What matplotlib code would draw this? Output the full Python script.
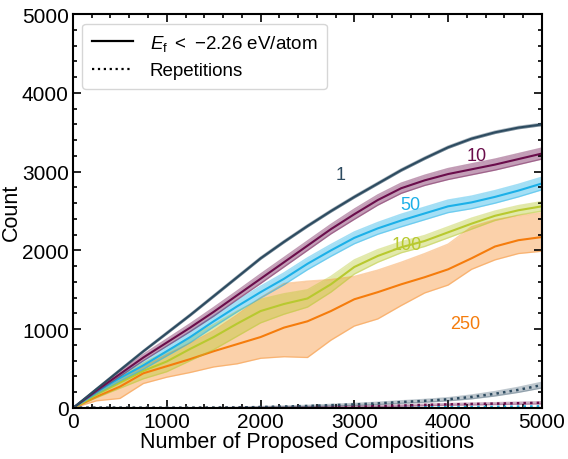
import matplotlib as mpl
import matplotlib.pyplot as plt
from matplotlib.lines import Line2D
from matplotlib.ticker import MultipleLocator

mpl.use("Agg")

plt.rcParams["font.family"] = ["Liberation Sans", "DejaVu Sans"]
plt.rcParams["mathtext.fontset"] = "custom"
plt.rcParams["mathtext.rm"] = "Liberation Sans"
plt.rcParams["mathtext.it"] = "Liberation Sans:italic"
plt.rcParams["font.size"] = 15

# number of proposed compositions
n_proposed = [0, 250, 500, 750, 1000, 1250, 1500, 1750, 2000, 2250, 2500,
              2750, 3000, 3250, 3500, 3750, 4000, 4250, 4500, 4750, 5000]

# counts with E_f < -2.26 eV/atom, per batch size
count_1 = [0, 240, 480, 720, 950, 1180, 1420, 1660, 1900, 2110, 2310,
           2500, 2680, 2850, 3020, 3170, 3310, 3420, 3500, 3560, 3600]
spread_1 = [0, 8, 12, 12, 14, 14, 15, 15, 15, 15, 15,
            15, 15, 15, 15, 15, 15, 15, 15, 15, 15]

count_10 = [0, 220, 430, 640, 830, 1020, 1220, 1430, 1640, 1850, 2060,
            2270, 2460, 2640, 2790, 2890, 2970, 3030, 3090, 3160, 3230]
spread_10 = [0, 20, 30, 40, 45, 50, 55, 55, 60, 60, 60,
             60, 65, 65, 65, 65, 70, 70, 70, 70, 70]

count_50 = [0, 200, 380, 540, 720, 900, 1100, 1290, 1470, 1640, 1830,
            2000, 2160, 2280, 2380, 2470, 2560, 2610, 2680, 2760, 2850]
spread_50 = [0, 25, 40, 50, 60, 70, 70, 70, 75, 75, 75,
             75, 75, 75, 80, 80, 80, 80, 80, 80, 80]

count_100 = [0, 170, 320, 470, 590, 750, 900, 1070, 1230, 1320, 1390,
             1570, 1790, 1930, 2040, 2120, 2230, 2340, 2440, 2510, 2560]
spread_100 = [0, 40, 70, 100, 130, 150, 160, 160, 150, 130, 110,
              100, 90, 80, 70, 70, 70, 70, 60, 60, 60]

count_250 = [0, 140, 270, 440, 530, 620, 720, 810, 900, 1020, 1100,
             1230, 1380, 1470, 1570, 1660, 1760, 1900, 2050, 2130, 2170]
low_250 = [0, 90, 120, 310, 390, 450, 520, 560, 630, 650, 640,
           860, 1040, 1130, 1300, 1460, 1560, 1760, 1880, 1960, 1990]
high_250 = [0, 190, 380, 520, 680, 820, 980, 1180, 1400, 1580, 1610,
            1630, 1670, 1750, 1850, 1960, 2080, 2300, 2390, 2440, 2480]

# repetitions
rep_1 = [0, 0, 0, 0, 0, 0, 2, 5, 12, 18, 25,
         35, 45, 58, 75, 90, 110, 140, 180, 230, 290]
rep_spread_1 = [0, 0, 0, 0, 0, 0, 2, 3, 5, 6, 8,
                10, 12, 14, 16, 18, 20, 24, 28, 32, 36]
rep_10 = [0, 0, 0, 0, 0, 0, 0, 2, 4, 6, 9,
          12, 16, 22, 30, 38, 45, 50, 55, 60, 65]
rep_spread_10 = [0, 0, 0, 0, 0, 0, 0, 2, 3, 4, 5,
                 6, 7, 8, 9, 10, 11, 12, 12, 13, 14]
rep_50 = [0, 0, 0, 0, 0, 0, 0, 0, 1, 2, 3,
          4, 5, 6, 8, 9, 10, 12, 14, 17, 20]
rep_100 = [0, 0, 0, 0, 0, 0, 0, 0, 0, 0, 0,
           0, 1, 1, 2, 2, 3, 3, 4, 5, 6]
rep_250 = [0] * 21

batch_labels = ["1", "10", "50", "100", "250"]
colors = {"1": "#2d4b60", "10": "#6a0d4b", "50": "#1cb0e8",
          "100": "#b8c92f", "250": "#f57c0c"}
label_pos = {"1": (2850, 2960), "10": (4300, 3200), "50": (3600, 2580),
             "100": (3560, 2070), "250": (4180, 1070)}

fig = plt.figure(figsize=(5.68, 4.60), dpi=100)
ax = fig.add_axes([0.1285, 0.111, 0.8255, 0.856])


def band(ax, mean, spread, color, alpha=0.35):
    lo = [m - s for m, s in zip(mean, spread)]
    hi = [m + s for m, s in zip(mean, spread)]
    ax.fill_between(n_proposed, lo, hi, color=color, alpha=alpha, lw=0)
    ax.plot(n_proposed, lo, color=color, alpha=alpha, lw=1)
    ax.plot(n_proposed, hi, color=color, alpha=alpha, lw=1)


# 250
c = colors["250"]
ax.fill_between(n_proposed, low_250, high_250, color=c, alpha=0.35, lw=0)
ax.plot(n_proposed, low_250, color=c, alpha=0.35, lw=1)
ax.plot(n_proposed, high_250, color=c, alpha=0.35, lw=1)
ax.plot(n_proposed, count_250, color=c, lw=1.5)

for name, mean, spread in [("100", count_100, spread_100),
                           ("50", count_50, spread_50),
                           ("10", count_10, spread_10),
                           ("1", count_1, spread_1)]:
    band(ax, mean, spread, colors[name], alpha=0.4)
    ax.plot(n_proposed, mean, color=colors[name], lw=1.5)

# repetitions
band(ax, rep_1, rep_spread_1, colors["1"], alpha=0.3)
band(ax, rep_10, rep_spread_10, colors["10"], alpha=0.3)
for name, rep in [("250", rep_250), ("100", rep_100), ("50", rep_50),
                  ("10", rep_10), ("1", rep_1)]:
    ax.plot(n_proposed, rep, color=colors[name], lw=1.8, ls=":")

for name in batch_labels:
    x, y = label_pos[name]
    ax.text(x, y, name, color=colors[name], fontsize=13, ha="center", va="center")

ax.set_xlim(0, 5000)
ax.set_ylim(0, 5000)
ax.set_xlabel("Number of Proposed Compositions", fontsize=15.5, labelpad=0)
ax.set_ylabel("Count", fontsize=15.5)
ax.yaxis.set_label_coords(-0.11, 0.5)
ax.xaxis.set_major_locator(MultipleLocator(1000))
ax.xaxis.set_minor_locator(MultipleLocator(200))
ax.yaxis.set_major_locator(MultipleLocator(1000))
ax.yaxis.set_minor_locator(MultipleLocator(200))
ax.tick_params(which="both", direction="in", top=True, right=True, width=1.2)
ax.tick_params(which="major", length=6, pad=3)
ax.tick_params(which="minor", length=3)
for s in ax.spines.values():
    s.set_linewidth(1.5)

handles = [Line2D([], [], color="black", lw=1.6),
           Line2D([], [], color="black", lw=1.6, ls=":")]
ax.legend(handles, ["$E_\\mathrm{f}$ $<$ \u22122.26 eV/atom", "Repetitions"],
          loc="upper left", fontsize=13.5, borderaxespad=0.5,
          handlelength=2.2, handletextpad=0.9, borderpad=0.5, labelspacing=0.5)

fig.savefig("out.png", dpi=100)
